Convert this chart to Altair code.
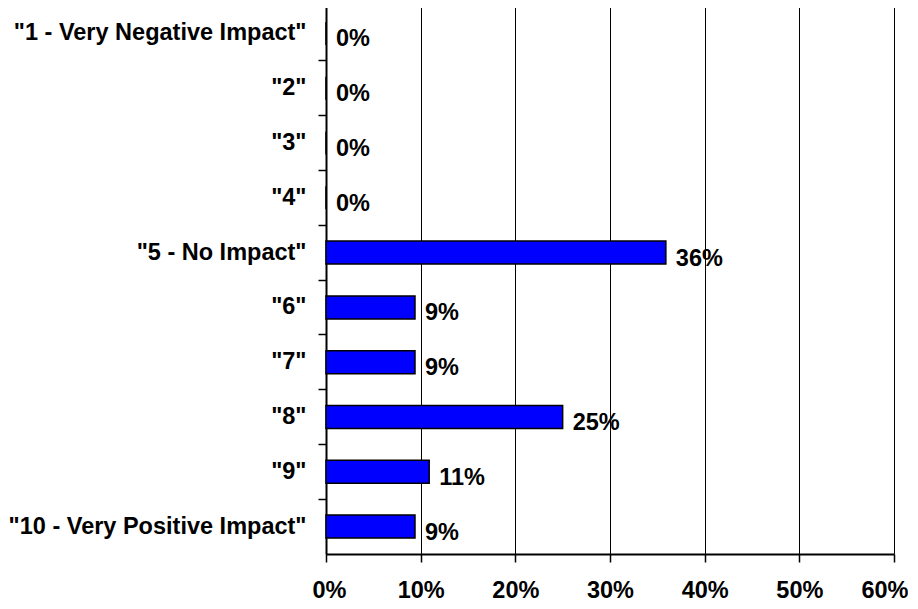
import altair as alt
import pandas as pd

categories = ['"1 - Very Negative Impact"', '"2"', '"3"', '"4"', '"5 - No Impact"',
              '"6"', '"7"', '"8"', '"9"', '"10 - Very Positive Impact"']
values = [0.0, 0.0, 0.0, 0.0, 0.359, 0.094, 0.094, 0.25, 0.109, 0.094]
value_labels = ["0%", "0%", "0%", "0%", "36%", "9%", "9%", "25%", "11%", "9%"]
x_ticks = [0.0, 0.1, 0.2, 0.3, 0.4, 0.5, 0.6]

df = pd.DataFrame({"cat": categories, "val": values, "label": value_labels})

FONT = "Liberation Sans"
FS = 23.5

y_enc = alt.Y(
    "cat:N", sort=categories,
    scale=alt.Scale(paddingInner=0, paddingOuter=0),
    axis=alt.Axis(title=None, bandPosition=0, labelFontSize=FS, labelFont=FONT,
                  labelFontWeight="bold", labelColor="black", labelPadding=12,
                  labelLimit=500, tickSize=8, tickColor="black", tickWidth=1.5,
                  domainColor="black", domainWidth=2, grid=False),
)
x_enc = alt.X(
    "val:Q",
    scale=alt.Scale(domain=[0, 0.6], nice=False, zero=True),
    axis=alt.Axis(title=None, format=".0%", values=x_ticks, grid=True,
                  gridColor="black", gridWidth=1, gridOpacity=1,
                  tickSize=8, tickColor="black", tickWidth=1.5,
                  domainColor="black", domainWidth=2,
                  labelFontSize=FS, labelFont=FONT, labelFontWeight="bold",
                  labelColor="black", labelPadding=16,
                  labelFlush=True, labelFlushOffset=14),
)

base = alt.Chart(df).encode(y=y_enc, x=x_enc)

bars = base.mark_bar(height={"band": 0.42}, color="#0000FF", stroke="black",
                     strokeWidth=1.5)
text = base.mark_text(align="left", baseline="middle", dx=10, dy=6, fontSize=FS,
                      font=FONT, fontWeight="bold", color="black").encode(text="label:N")

chart = (bars + text).properties(
    width=568, height=548,
    padding={"top": -3, "left": 0, "right": 0, "bottom": 0},
).configure_view(stroke=None)

chart.save("out.html", embed_options={"renderer": "svg", "actions": False})
